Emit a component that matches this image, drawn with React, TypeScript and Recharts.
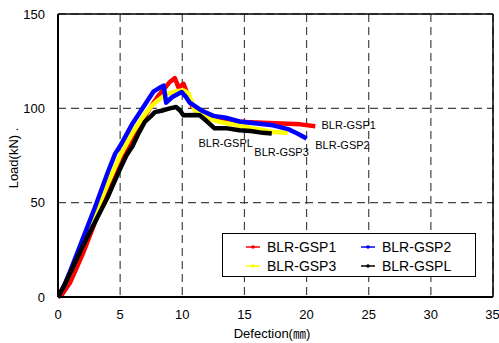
import {
  LineChart,
  Line,
  XAxis,
  YAxis,
  CartesianGrid,
  ReferenceLine,
  ReferenceDot,
  Legend,
} from "recharts";

// deflection (mm) / load (kN)
const gsp1Defl = [0, 0.3, 1, 2, 3, 4, 5, 6, 7, 7.5, 8, 8.5, 9, 9.4, 9.7, 10.1, 10.4, 10.8, 11.5, 12.5, 14, 16, 18, 19.5, 20.7];
const gsp1Load = [0, 1, 8, 23, 40, 57, 72, 85, 96, 101, 106, 110, 114, 116, 111, 113, 108, 101, 98, 95, 93, 92.5, 92, 91.5, 90.5];

const gsp2Defl = [0, 0.5, 1, 2, 3, 4, 4.6, 5, 6, 7, 7.7, 8.2, 8.5, 8.7, 9.2, 9.95, 10.3, 10.6, 11.5, 12.5, 13.5, 14.6, 16, 17.3, 18.5, 19.3, 20];
const gsp2Load = [0, 6, 14, 31, 48, 66, 76, 80, 92, 102, 109, 111, 112, 103, 106, 108.6, 106, 103, 99, 96, 95, 93, 92, 91, 89, 86.5, 84];

const gsp3Defl = [0, 0.5, 1, 2, 3, 4, 5, 6, 7, 7.5, 8, 8.7, 9.5, 10.1, 10.5, 11, 12, 13, 14.5, 16, 17.3, 18.5];
const gsp3Load = [0, 6, 13, 29, 44, 60, 75, 87, 97, 101, 104, 107.5, 109, 109.5, 108, 99, 95, 92.8, 91, 89, 87.5, 87];

const gsplDefl = [0, 0.5, 1, 2, 3, 4, 5, 5.5, 6, 6.5, 7, 7.5, 7.8, 8.5, 9, 9.5, 9.8, 10.1, 11, 11.4, 12, 12.6, 13.5, 14.6, 15.5, 16.5, 17.2];
const gsplLoad = [0, 6, 13, 27, 40, 53, 68, 75, 80, 87, 93, 96, 98, 99, 100, 100.7, 99, 96.3, 96.5, 96.3, 93, 89.4, 89.5, 88.4, 88, 87, 86.6];

const seriesNames = ["BLR-GSP1", "BLR-GSP2", "BLR-GSP3", "BLR-GSPL"];
const seriesColors = ["#ff0000", "#0000ff", "#ffff00", "#000000"];

// where the in-plot names sit (deflection, load)
const tagDefl = [21.2, 20.7, 15.8, 11.3];
const tagLoad = [91, 80.4, 76.9, 81.6];

const xTicks = [0, 5, 10, 15, 20, 25, 30, 35];
const yTicks = [0, 50, 100, 150];

const toRows = (xs: number[], ys: number[]) => xs.map((d, i) => ({ d, p: ys[i] }));

const series = [
  toRows(gsp1Defl, gsp1Load),
  toRows(gsp2Defl, gsp2Load),
  toRows(gsp3Defl, gsp3Load),
  toRows(gsplDefl, gsplLoad),
];

// draw order: red, yellow, blue, black on top
const drawOrder = [0, 2, 1, 3];
const legendOrder = [0, 1, 2, 3];

const narrow = "'Liberation Sans Narrow', 'Arial Narrow', 'Liberation Sans', Arial, sans-serif";
const sans = "'Liberation Sans', Arial, 'Noto Sans CJK KR', sans-serif";

function LegendBox() {
  return (
    <div
      style={{
        border: "1.5px solid #000",
        background: "#fff",
        boxSizing: "border-box",
        width: "100%",
        height: "100%",
        display: "grid",
        gridTemplateColumns: "1fr 1fr",
        paddingLeft: 22,
        paddingTop: 3,
        fontFamily: narrow,
        fontSize: 14,
        color: "#000",
      }}
    >
      {legendOrder.map((i) => (
        <div key={i} style={{ display: "flex", alignItems: "center", height: 19 }}>
          <svg width={18} height={10} style={{ marginRight: 4 }}>
            <line x1={1} y1={5} x2={15} y2={5} stroke={seriesColors[i]} strokeWidth={1.5} />
            <circle cx={8} cy={5} r={1.8} fill={seriesColors[i]} />
          </svg>
          <span>{seriesNames[i]}</span>
        </div>
      ))}
    </div>
  );
}

export default function App() {
  return (
    <div style={{ position: "absolute", left: 0, top: 0, background: "#fff" }}>
      <LineChart width={499} height={343} margin={{ top: 14, right: 6, left: 0, bottom: 0 }}>
        <CartesianGrid stroke="#444" strokeDasharray="8 5" strokeWidth={1.2} />
        <XAxis
          dataKey="d"
          type="number"
          domain={[0, 35]}
          ticks={xTicks}
          allowDataOverflow
          height={46}
          tickSize={0}
          tickMargin={13}
          axisLine={{ stroke: "#000", strokeWidth: 2 }}
          tick={{ fill: "#000", fontSize: 13, fontFamily: narrow }}
          label={{
            content: () => (
              <text x={272} y={338} textAnchor="middle" fontSize={13} fontFamily={sans} fill="#000">
                Defection(㎜)
              </text>
            ),
          }}
        />
        <YAxis
          type="number"
          domain={[0, 150]}
          ticks={yTicks}
          width={58}
          tickSize={0}
          tickMargin={13}
          axisLine={{ stroke: "#000", strokeWidth: 2 }}
          tick={{ fill: "#000", fontSize: 13, fontFamily: narrow }}
          label={{
            content: () => (
              <text
                x={13}
                y={158}
                transform="rotate(-90 13 158)"
                textAnchor="middle"
                dominantBaseline="central"
                fontSize={13}
                fontFamily={sans}
                fill="#000"
              >
                Load(kN) .
              </text>
            ),
          }}
        />
        <ReferenceLine y={150} stroke="#000" strokeWidth={1.5} />
        <ReferenceLine x={35} stroke="#000" strokeWidth={1.5} />
        {drawOrder.map((i) => (
          <Line
            key={seriesNames[i]}
            data={series[i]}
            dataKey="p"
            type="linear"
            stroke={seriesColors[i]}
            strokeWidth={4.5}
            strokeLinejoin="round"
            dot={false}
            isAnimationActive={false}
          />
        ))}
        {seriesNames.map((name, i) => (
          <ReferenceDot
            key={"tag" + name}
            x={tagDefl[i]}
            y={tagLoad[i]}
            r={0}
            fill="none"
            stroke="none"
            label={{ value: name, position: "right", offset: 0, fill: "#000", fontSize: 11, fontFamily: sans }}
          />
        ))}
        <Legend
          layout="horizontal"
          verticalAlign="middle"
          align="center"
          content={() => <LegendBox />}
          wrapperStyle={{ left: 222, top: 233, width: 254, height: 44 }}
        />
      </LineChart>
    </div>
  );
}
